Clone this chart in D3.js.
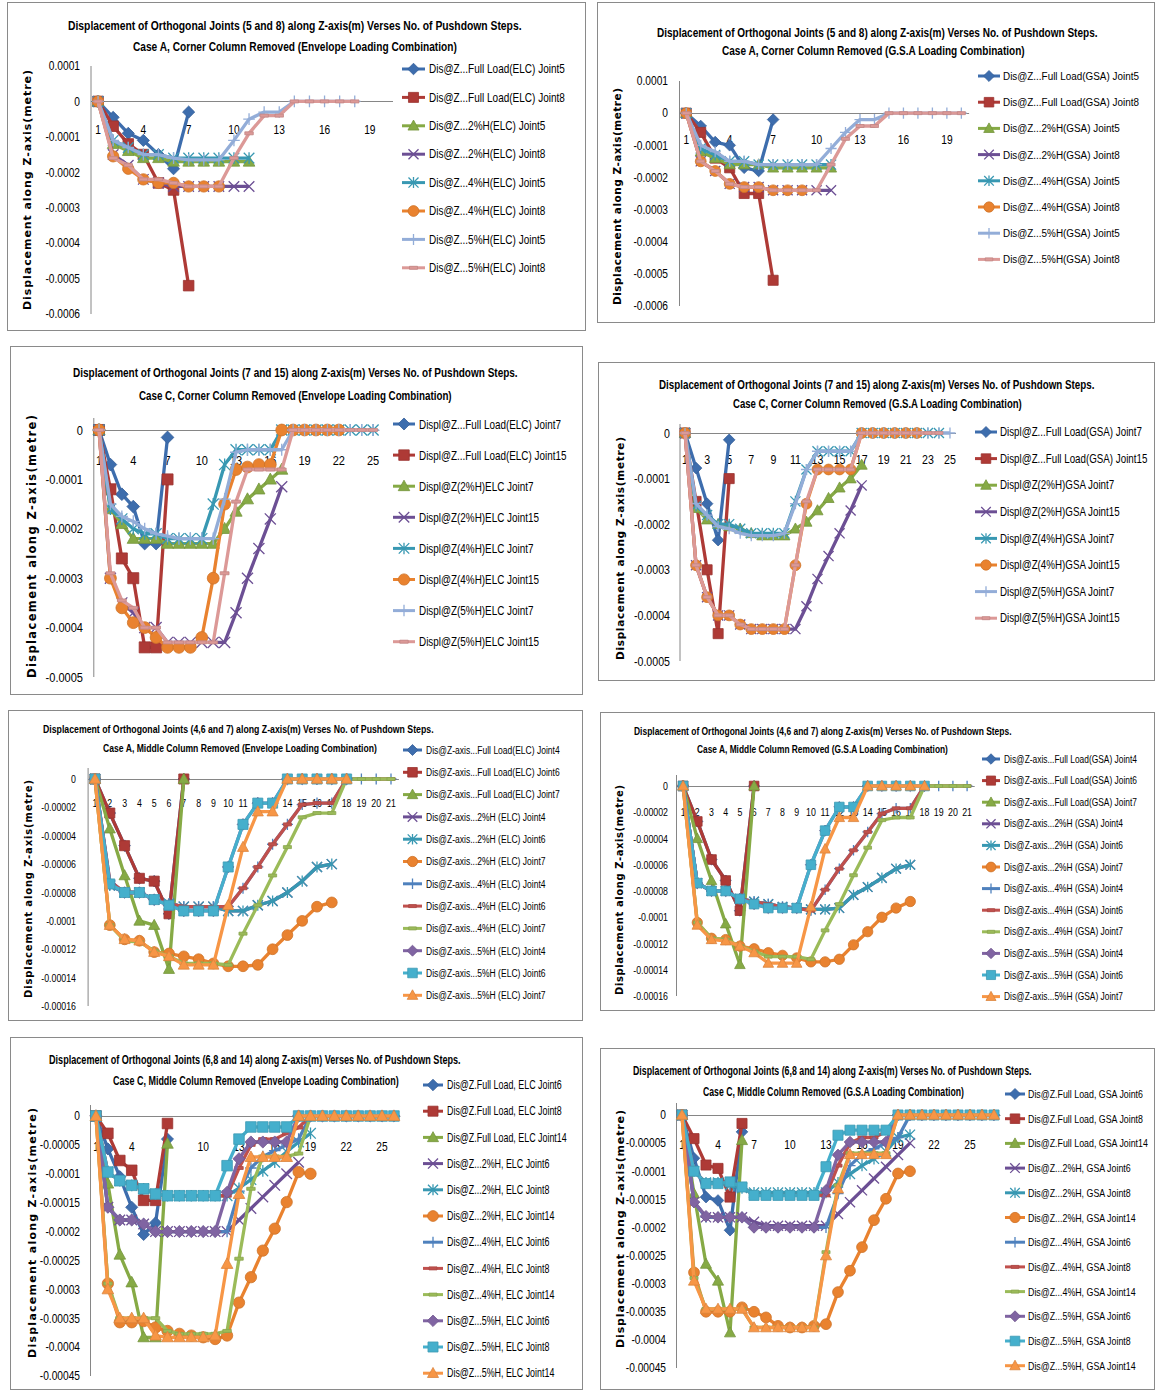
<!DOCTYPE html>
<html>
<head>
<meta charset="utf-8">
<script src="https://cdn.jsdelivr.net/npm/d3@7"></script>
<style>
  body { margin: 0; background: #fff; }
  svg { display: block; font-family: "Liberation Sans", Arial, sans-serif; }
</style>
</head>
<body>
<svg id="chart" width="1155" height="1390"></svg>
<script>
// ---- categories (pushdown steps) ----
const steps20 = [1,2,3,4,5,6,7,8,9,10,11,12,13,14,15,16,17,18,19,20];
const steps21 = [1,2,3,4,5,6,7,8,9,10,11,12,13,14,15,16,17,18,19,20,21];
const steps25 = [1,2,3,4,5,6,7,8,9,10,11,12,13,14,15,16,17,18,19,20,21,22,23,24,25];
const steps26 = [1,2,3,4,5,6,7,8,9,10,11,12,13,14,15,16,17,18,19,20,21,22,23,24,25,26];
const steps27 = [1,2,3,4,5,6,7,8,9,10,11,12,13,14,15,16,17,18,19,20,21,22,23,24,25,26,27];

// ---- tick labels ----
const xTicksTo19 = [1,4,7,10,13,16,19];
const xTicksTo25 = [1,4,7,10,13,16,19,22,25];
const xTicksOdd25 = [1,3,5,7,9,11,13,15,17,19,21,23,25];
const xTicksAll21 = [1,2,3,4,5,6,7,8,9,10,11,12,13,14,15,16,17,18,19,20,21];

const yTicksCornerA = [0.0001, 0, -0.0001, -0.0002, -0.0003, -0.0004, -0.0005, -0.0006];
const yTicksCornerC = [0, -0.0001, -0.0002, -0.0003, -0.0004, -0.0005];
const yTicksMiddleA = [0, -0.00002, -0.00004, -0.00006, -0.00008, -0.0001, -0.00012, -0.00014, -0.00016];
const yTicksMiddleC = [0, -0.00005, -0.0001, -0.00015, -0.0002, -0.00025, -0.0003, -0.00035, -0.0004, -0.00045];

// ---- titles ----
const titleJ58 = "Displacement of Orthogonal Joints (5 and 8) along Z-axis(m)  Verses  No. of Pushdown Steps.";
const titleJ715 = "Displacement of Orthogonal Joints (7 and 15) along Z-axis(m)  Verses  No. of Pushdown Steps.";
const titleJ467 = "Displacement of Orthogonal Joints (4,6 and 7) along Z-axis(m) Verses No. of Pushdown Steps.";
const titleJ6814 = "Displacement of Orthogonal Joints (6,8 and 14) along Z-axis(m)  Verses  No. of Pushdown Steps.";
const yTitle = "Displacement along Z-axis(metre)";

// ---- legend labels ----
const p1Legend = ["Dis@Z...Full Load(ELC) Joint5","Dis@Z...Full Load(ELC) Joint8","Dis@Z...2%H(ELC) Joint5","Dis@Z...2%H(ELC) Joint8",
  "Dis@Z...4%H(ELC) Joint5","Dis@Z...4%H(ELC) Joint8","Dis@Z...5%H(ELC) Joint5","Dis@Z...5%H(ELC) Joint8"];
const p2Legend = ["Dis@Z...Full Load(GSA) Joint5","Dis@Z...Full Load(GSA) Joint8","Dis@Z...2%H(GSA) Joint5","Dis@Z...2%H(GSA) Joint8",
  "Dis@Z...4%H(GSA) Joint5","Dis@Z...4%H(GSA) Joint8","Dis@Z...5%H(GSA) Joint5","Dis@Z...5%H(GSA) Joint8"];
const p3Legend = ["Displ@Z...Full Load(ELC) Joint7","Displ@Z...Full Load(ELC) Joint15","Displ@Z(2%H)ELC Joint7","Displ@Z(2%H)ELC Joint15",
  "Displ@Z(4%H)ELC Joint7","Displ@Z(4%H)ELC Joint15","Displ@Z(5%H)ELC Joint7","Displ@Z(5%H)ELC Joint15"];
const p4Legend = ["Displ@Z...Full Load(GSA) Joint7","Displ@Z...Full Load(GSA) Joint15","Displ@Z(2%H)GSA Joint7","Displ@Z(2%H)GSA Joint15",
  "Displ@Z(4%H)GSA Joint7","Displ@Z(4%H)GSA Joint15","Displ@Z(5%H)GSA Joint7","Displ@Z(5%H)GSA Joint15"];
const p5Legend = ["Dis@Z-axis...Full Load(ELC) Joint4","Dis@Z-axis...Full Load(ELC) Joint6","Dis@Z-axis...Full Load(ELC) Joint7",
  "Dis@Z-axis...2%H (ELC) Joint4","Dis@Z-axis...2%H (ELC) Joint6","Dis@Z-axis...2%H (ELC) Joint7",
  "Dis@Z-axis...4%H (ELC) Joint4","Dis@Z-axis...4%H (ELC) Joint6","Dis@Z-axis...4%H (ELC) Joint7",
  "Dis@Z-axis...5%H (ELC) Joint4","Dis@Z-axis...5%H (ELC) Joint6","Dis@Z-axis...5%H (ELC) Joint7"];
const p6Legend = ["Dis@Z-axis...Full Load(GSA) Joint4","Dis@Z-axis...Full Load(GSA) Joint6","Dis@Z-axis...Full Load(GSA) Joint7",
  "Dis@Z-axis...2%H (GSA) Joint4","Dis@Z-axis...2%H (GSA) Joint6","Dis@Z-axis...2%H (GSA) Joint7",
  "Dis@Z-axis...4%H (GSA) Joint4","Dis@Z-axis...4%H (GSA) Joint6","Dis@Z-axis...4%H (GSA) Joint7",
  "Dis@Z-axis...5%H (GSA) Joint4","Dis@Z-axis...5%H (GSA) Joint6","Dis@Z-axis...5%H (GSA) Joint7"];
const p7Legend = ["Dis@Z.Full Load, ELC Joint6","Dis@Z.Full Load, ELC Joint8","Dis@Z.Full Load, ELC Joint14",
  "Dis@Z...2%H, ELC Joint6","Dis@Z...2%H, ELC Joint8","Dis@Z...2%H, ELC Joint14",
  "Dis@Z...4%H, ELC Joint6","Dis@Z...4%H, ELC Joint8","Dis@Z...4%H, ELC Joint14",
  "Dis@Z...5%H, ELC Joint6","Dis@Z...5%H, ELC Joint8","Dis@Z...5%H, ELC Joint14"];
const p8Legend = ["Dis@Z.Full Load, GSA Joint6","Dis@Z.Full Load, GSA Joint8","Dis@Z.Full Load, GSA Joint14",
  "Dis@Z...2%H, GSA Joint6","Dis@Z...2%H, GSA Joint8","Dis@Z...2%H, GSA Joint14",
  "Dis@Z...4%H, GSA Joint6","Dis@Z...4%H, GSA Joint8","Dis@Z...4%H, GSA Joint14",
  "Dis@Z...5%H, GSA Joint6","Dis@Z...5%H, GSA Joint8","Dis@Z...5%H, GSA Joint14"];

// ---- series values (metre), one array per series, index = step-1 ----
const p1Values = [
  [0, -0.000045, -0.00009, -0.00011, -0.00015, -0.00019, -0.00003],
  [0, -0.00007, -0.00012, -0.00015, -0.00023, -0.00025, -0.00052],
  [0, -0.00012, -0.00014, -0.00016, -0.00016, -0.00017, -0.00017, -0.00017, -0.00017, -0.00017, -0.00017],
  [0, -0.00015, -0.00018, -0.00022, -0.00023, -0.00024, -0.00024, -0.00024, -0.00024, -0.00024, -0.00024],
  [0, -0.00011, -0.00013, -0.00015, -0.00015, -0.00016, -0.00016, -0.00016, -0.00016, -0.00016, -0.00016],
  [0, -0.000155, -0.00019, -0.00022, -0.00023, -0.00023, -0.00024, -0.00024, -0.00024],
  [0, -0.00011, -0.00013, -0.00015, -0.00015, -0.00016, -0.000165, -0.000165, -0.000165, -0.00011, -0.00005, -0.00003, -0.00003, 0, 0, 0, 0, 0],
  [0, -0.00016, -0.00018, -0.00022, -0.00022, -0.00023, -0.00024, -0.00024, -0.00024, -0.00016, -0.00009, -0.00004, -0.00004, 0, 0, 0, 0, 0]
];
const p2Values = [
  [0, -0.00004, -0.00009, -0.0001, -0.00017, -0.00018, -0.00002],
  [0, -0.00006, -0.00014, -0.00017, -0.00025, -0.00025, -0.00052],
  [0, -0.00012, -0.00014, -0.00016, -0.00016, -0.00016, -0.00017, -0.00017, -0.00017, -0.00017, -0.00017],
  [0, -0.00015, -0.00018, -0.00022, -0.00023, -0.00023, -0.00024, -0.00024, -0.00024, -0.00024, -0.00024],
  [0, -0.00011, -0.00013, -0.00015, -0.00015, -0.00016, -0.00016, -0.00016, -0.00016, -0.00016, -0.00016],
  [0, -0.00015, -0.00018, -0.00022, -0.00023, -0.00023, -0.00024, -0.00024, -0.00024],
  [0, -0.0001, -0.00012, -0.00015, -0.00015, -0.00016, -0.00016, -0.00016, -0.00016, -0.00016, -0.00011, -0.00006, -0.00002, -0.00002, 0, 0, 0, 0, 0, 0],
  [0, -0.00015, -0.00018, -0.00022, -0.00023, -0.00023, -0.00024, -0.00024, -0.00024, -0.00024, -0.00016, -0.00008, -0.00004, -0.00004, 0, 0, 0, 0, 0, 0]
];
const p3Values = [
  [0, -0.00007, -0.00013, -0.000155, -0.00023, -0.00023, -0.000015],
  [0, -0.00012, -0.00026, -0.0003, -0.00044, -0.00044, -0.0001],
  [0, -0.00016, -0.00019, -0.00022, -0.00022, -0.00022, -0.00023, -0.00023, -0.00023, -0.00023, -0.00023, -0.0002, -0.000165, -0.00014, -0.00012, -0.0001, -0.00008],
  [0, -0.0003, -0.00035, -0.00037, -0.0004, -0.0004, -0.00043, -0.00043, -0.00043, -0.00043, -0.00043, -0.00043, -0.00037, -0.0003, -0.00024, -0.00018, -0.000115],
  [0, -0.00016, -0.00018, -0.0002, -0.00021, -0.00021, -0.00022, -0.00022, -0.00022, -0.00022, -0.00015, -0.00007, -0.00004, -0.00004, -0.00004, -0.00004, 0, 0, 0, 0, 0, 0, 0, 0, 0],
  [0, -0.0003, -0.00036, -0.00039, -0.0004, -0.00042, -0.00044, -0.00044, -0.00044, -0.00042, -0.0003, -0.00015, -0.00008, -0.000075, -0.00007, -0.00007, 0, 0, 0, 0, 0, 0],
  [0, -0.00015, -0.000175, -0.000185, -0.0002, -0.00021, -0.000215, -0.00022, -0.00022, -0.00022, -0.00022, -0.00014, -0.000045, -0.00004, -0.00004, -0.00004, -0.00004, 0, 0, 0, 0, 0, 0, 0, 0],
  [0, -0.00029, -0.000345, -0.00036, -0.0004, -0.0004, -0.00043, -0.00043, -0.00043, -0.00043, -0.00043, -0.00029, -0.000145, -0.00008, -0.00008, -0.00008, -0.00008, 0, 0, 0, 0, 0, 0, 0, 0]
];
const p4Values = [
  [0, -0.000077, -0.000155, -0.000235, -0.000015],
  [0, -0.00015, -0.0003, -0.00044, -0.0001],
  [0, -0.000165, -0.00019, -0.0002, -0.000205, -0.00021, -0.00022, -0.000225, -0.000225, -0.000225, -0.00021, -0.000195, -0.00017, -0.000143, -0.00012, -0.0001, -0.00007],
  [0, -0.00029, -0.00036, -0.0004, -0.0004, -0.00042, -0.00043, -0.00043, -0.00043, -0.00043, -0.00043, -0.00038, -0.00032, -0.00027, -0.00022, -0.00017, -0.000115],
  [0, -0.00016, -0.00018, -0.0002, -0.0002, -0.00021, -0.00022, -0.00022, -0.00022, -0.00022, -0.00015, -0.00008, -0.00004, -0.00004, -0.00004, -0.00004, 0, 0, 0, 0, 0, 0, 0, 0],
  [0, -0.00029, -0.00036, -0.0004, -0.0004, -0.00042, -0.00043, -0.00043, -0.00043, -0.00043, -0.00029, -0.000155, -0.00008, -0.00008, -0.00008, -0.00008, 0, 0, 0, 0, 0, 0],
  [0, -0.000155, -0.00018, -0.000205, -0.00021, -0.00022, -0.000225, -0.000225, -0.000225, -0.00022, -0.000155, -0.00008, -0.00004, -0.00004, -0.00004, -0.00004, 0, 0, 0, 0, 0, 0, 0, 0, 0],
  [0, -0.00029, -0.00036, -0.0004, -0.0004, -0.00042, -0.00043, -0.00043, -0.00043, -0.00043, -0.00029, -0.00015, -0.00008, -0.00008, -0.00008, -0.00008, 0, 0, 0, 0, 0, 0, 0, 0]
];
const p5Values = [
  [0, -0.000024, -0.000047, -0.00007, -0.000072, -0.000095, 0],
  [0, -0.000024, -0.000047, -0.00007, -0.000072, -0.000095, 0],
  [0, -0.000035, -0.000068, -0.0001, -0.000103, -0.000134, 0],
  [0, -0.000075, -0.00008, -0.00008, -0.000085, -0.000088, -0.00009, -0.00009, -0.00009, -0.000093, -0.000093, -0.000089, -0.000086, -0.00008, -0.000072, -0.000062, -0.00006],
  [0, -0.000075, -0.00008, -0.00008, -0.000085, -0.000088, -0.00009, -0.00009, -0.00009, -0.000093, -0.000093, -0.000089, -0.000086, -0.00008, -0.000072, -0.000062, -0.00006],
  [0, -0.000103, -0.000113, -0.000114, -0.000122, -0.000123, -0.000125, -0.000127, -0.00013, -0.000132, -0.000132, -0.000131, -0.00012, -0.00011, -0.0001, -0.00009, -0.000087],
  [0, -0.000072, -0.00008, -0.00008, -0.000085, -0.000088, -0.00009, -0.00009, -0.00009, -0.00009, -0.000077, -0.000062, -0.000046, -0.000032, -0.000018, -0.000017, -0.000017, 0, 0, 0, 0],
  [0, -0.000072, -0.00008, -0.00008, -0.000085, -0.000088, -0.00009, -0.00009, -0.00009, -0.00009, -0.000077, -0.000062, -0.000046, -0.000032, -0.000018, -0.000017, -0.000017, 0, 0, 0, 0],
  [0, -0.000103, -0.000114, -0.000115, -0.000121, -0.000125, -0.00013, -0.00013, -0.00013, -0.000131, -0.000109, -0.000089, -0.000068, -0.000048, -0.000027, -0.000024, -0.000024, 0, 0, 0, 0],
  [0, -0.000074, -0.00008, -0.00008, -0.000085, -0.000089, -0.000093, -0.000093, -0.000093, -0.000062, -0.000032, -0.000017, -0.000017, 0, 0, 0, 0, 0],
  [0, -0.000074, -0.00008, -0.00008, -0.000085, -0.000089, -0.000093, -0.000093, -0.000093, -0.000062, -0.000032, -0.000017, -0.000017, 0, 0, 0, 0, 0],
  [0, -0.000103, -0.000113, -0.000114, -0.000122, -0.000125, -0.000131, -0.000131, -0.000131, -0.000089, -0.000048, -0.000023, -0.000023, 0, 0, 0, 0, 0]
];
const p6Values = [
  [0, -0.000027, -0.000056, -0.000072, -0.000095, 0],
  [0, -0.000027, -0.000056, -0.000072, -0.000095, 0],
  [0, -0.00004, -0.000072, -0.000105, -0.000136, 0],
  [0, -0.000074, -0.00008, -0.00008, -0.000086, -0.000088, -0.00009, -0.000092, -0.000093, -0.000094, -0.000094, -0.000093, -0.000083, -0.000077, -0.00007, -0.000063, -0.00006],
  [0, -0.000074, -0.00008, -0.00008, -0.000086, -0.000088, -0.00009, -0.000092, -0.000093, -0.000094, -0.000094, -0.000093, -0.000083, -0.000077, -0.00007, -0.000063, -0.00006],
  [0, -0.000104, -0.000116, -0.000117, -0.000122, -0.000124, -0.000127, -0.000129, -0.000131, -0.000134, -0.000134, -0.000132, -0.000121, -0.000111, -0.0001, -0.000093, -0.000088],
  [0, -0.000074, -0.00008, -0.00008, -0.000086, -0.000088, -0.00009, -0.000092, -0.000093, -0.000095, -0.000079, -0.000063, -0.000049, -0.000035, -0.000021, -0.000017, -0.000017, 0, 0, 0, 0],
  [0, -0.000074, -0.00008, -0.00008, -0.000086, -0.000088, -0.00009, -0.000092, -0.000093, -0.000095, -0.000079, -0.000063, -0.000049, -0.000035, -0.000021, -0.000017, -0.000017, 0, 0, 0, 0],
  [0, -0.000104, -0.000116, -0.000117, -0.000122, -0.000126, -0.00013, -0.00013, -0.00013, -0.000132, -0.00011, -0.00009, -0.000068, -0.000047, -0.000026, -0.000024, -0.000024, 0, 0, 0, 0],
  [0, -0.000074, -0.00008, -0.00008, -0.000086, -0.00009, -0.000093, -0.000093, -0.000093, -0.00006, -0.000034, -0.000016, -0.000016, 0, 0, 0, 0, 0],
  [0, -0.000074, -0.00008, -0.00008, -0.000086, -0.00009, -0.000093, -0.000093, -0.000093, -0.00006, -0.000034, -0.000016, -0.000016, 0, 0, 0, 0, 0],
  [0, -0.000106, -0.000117, -0.000118, -0.000122, -0.000127, -0.000135, -0.000135, -0.000135, -0.000092, -0.000048, -0.000024, -0.000024, 0, 0, 0, 0, 0]
];
const p7Values = [
  [0, -0.000057, -0.000105, -0.000158, -0.000205, -0.000185, -0.00004],
  [0, -0.00003, -0.000077, -0.000094, -0.000146, -0.000146, -0.000013],
  [0, -0.000117, -0.00024, -0.000288, -0.000383, -0.000383, -0.000048],
  [0, -0.000158, -0.00018, -0.00018, -0.000187, -0.0002, -0.0002, -0.0002, -0.0002, -0.0002, -0.0002, -0.0002, -0.00018, -0.00016, -0.00014, -0.00012, -0.0001, -0.00008],
  [0, -0.000097, -0.000112, -0.00012, -0.000126, -0.000135, -0.000138, -0.000138, -0.000138, -0.000138, -0.000138, -0.000138, -0.000125, -0.00011, -0.000095, -0.00008, -0.000062, -0.000045, -0.00003],
  [0, -0.00029, -0.000357, -0.000357, -0.000355, -0.000366, -0.000372, -0.000377, -0.00038, -0.000383, -0.000386, -0.00038, -0.000323, -0.000279, -0.000233, -0.000195, -0.000149, -0.000097, -0.0001],
  [0, -0.000158, -0.00018, -0.00018, -0.000187, -0.0002, -0.0002, -0.0002, -0.0002, -0.0002, -0.0002, -0.0002, -0.00013, -0.00009, -0.00007, -0.00006, -0.00005, -0.00004, 0],
  [0, -0.000097, -0.000112, -0.00012, -0.000126, -0.000135, -0.000138, -0.000138, -0.000138, -0.000138, -0.000138, -0.000138, -0.00009, -0.00005, -0.00004, -0.00004, -0.00003, -0.00002, 0],
  [0, -0.00029, -0.00035, -0.00035, -0.00035, -0.00035, -0.000372, -0.000377, -0.000377, -0.000377, -0.000377, -0.000372, -0.000247, -0.000126, -0.00007, -0.00007, -0.00007, -0.000065, 0],
  [0, -0.000158, -0.00018, -0.00018, -0.000187, -0.0002, -0.0002, -0.0002, -0.0002, -0.0002, -0.0002, -0.000132, -0.000074, -0.000045, -0.000045, -0.000045, -0.000045, 0, 0, 0, 0, 0, 0, 0, 0, 0],
  [0, -0.000097, -0.000112, -0.00012, -0.000126, -0.000135, -0.000138, -0.000138, -0.000138, -0.000138, -0.000138, -0.000086, -0.00004, -0.000019, -0.000019, -0.000019, -0.000019, 0, 0, 0, 0, 0, 0, 0, 0, 0],
  [0, -0.0003, -0.00035, -0.00035, -0.00035, -0.00038, -0.000383, -0.000383, -0.000383, -0.000383, -0.00038, -0.000256, -0.000135, -0.000071, -0.000071, -0.000071, -0.000071, 0, 0, 0, 0, 0, 0, 0, 0, 0]
];
const p8Values = [
  [0, -0.000077, -0.000146, -0.000152, -0.000205, -0.00003],
  [0, -0.000042, -0.000089, -0.000095, -0.000146, -0.000015],
  [0, -0.00014, -0.000265, -0.000295, -0.000387, -0.000045],
  [0, -0.000155, -0.000182, -0.000182, -0.000182, -0.000182, -0.00019, -0.000197, -0.000197, -0.000197, -0.000197, -0.000197, -0.000197, -0.000176, -0.000155, -0.000134, -0.000113, -0.000092, -0.000071, -0.00005],
  [0, -0.0001, -0.00012, -0.00012, -0.000125, -0.00013, -0.000138, -0.000138, -0.000138, -0.000138, -0.000138, -0.000138, -0.000138, -0.00012, -0.000105, -0.00009, -0.000078, -0.000065, -0.00004, -0.000035],
  [0, -0.00028, -0.00035, -0.00035, -0.00035, -0.000342, -0.00035, -0.00036, -0.000375, -0.000378, -0.000378, -0.000375, -0.000372, -0.000315, -0.000277, -0.000235, -0.000187, -0.000149, -0.000104, -0.0001],
  [0, -0.000155, -0.000182, -0.000182, -0.000182, -0.000182, -0.0002, -0.0002, -0.0002, -0.0002, -0.0002, -0.0002, -0.0002, -0.00014, -0.00009, -0.00007, -0.00006, -0.00005, -0.00004, 0],
  [0, -0.0001, -0.000122, -0.000122, -0.000119, -0.000128, -0.000143, -0.000143, -0.000143, -0.000143, -0.000143, -0.000143, -0.000143, -0.00009, -0.00005, -0.00004, -0.00004, -0.00003, 0],
  [0, -0.00029, -0.000345, -0.000345, -0.000345, -0.000345, -0.000378, -0.000378, -0.000378, -0.000378, -0.000378, -0.000378, -0.000244, -0.000125, -0.000068, -0.000068, -0.000068, -0.000068, 0],
  [0, -0.000155, -0.00018, -0.000182, -0.000182, -0.000182, -0.0002, -0.0002, -0.0002, -0.0002, -0.0002, -0.0002, -0.000134, -0.000071, -0.000048, -0.000048, -0.000048, -0.000048, 0, 0, 0, 0, 0, 0, 0, 0, 0],
  [0, -0.0001, -0.000122, -0.000122, -0.000119, -0.000128, -0.000143, -0.000143, -0.000143, -0.000143, -0.000143, -0.000143, -0.000092, -0.000036, -0.000027, -0.000027, -0.000027, -0.000027, 0, 0, 0, 0, 0, 0, 0, 0, 0],
  [0, -0.000295, -0.000345, -0.000345, -0.000345, -0.000345, -0.000378, -0.000378, -0.000378, -0.000378, -0.000378, -0.000378, -0.00025, -0.000131, -0.00007, -0.00007, -0.00007, -0.00007, 0, 0, 0, 0, 0, 0, 0, 0, 0]
];

// ---- series styles ----
const colors8 = ["#3D6DAD", "#AE3A36", "#86AA45", "#6C4F94", "#3898B2", "#E9822F", "#93ADD8", "#DC9997"];
const markers8 = ["diamond", "square", "triangle", "x", "star", "circle", "plus", "dash"];
const colors12 = ["#3D6DAD", "#AE3A36", "#86AA45", "#6C4F94", "#3898B2", "#E9822F",
                  "#4F81BD", "#C0504D", "#9BBB59", "#8064A2", "#45AFCC", "#F79646"];
const markers12 = ["diamond", "square", "triangle", "x", "star", "circle", "plus", "dash", "dash", "diamond", "square", "triangle"];

const axisColor = "#868686";

// ---- layout of each panel ----
const panels = [
  { box: [7, 2, 585, 330], titles: [[titleJ58, 68, 522, 25], ["Case A, Corner Column Removed (Envelope Loading Combination)", 133, 457, 46]], titleSize: 13,
    steps: steps20, x0: 90.5, step: 15.1, xTicks: xTicksTo19, xLabelY: 130,
    yTicks: yTicksCornerA, yRange: [66, 314], yAxisTop: 66, yLabelRight: 80, tickSize: 12, tickSx: 0.85,
    yTitle: [27, 70, 310, 11], values: p1Values, legend: p1Legend, colors: colors8, markers: markers8, ms: 1.1,
    leg: { x1: 402, x2: 425, tx: 429, y0: 69, dy: 28.4, width: 136, size: 12 } },
  { box: [597, 2, 1154, 322], titles: [[titleJ58, 657, 1098, 33], ["Case A, Corner Column Removed (G.S.A Loading Combination)", 722, 1025, 51]], titleSize: 12.5,
    steps: steps20, x0: 679, step: 14.48, xTicks: xTicksTo19, xLabelY: 140,
    yTicks: yTicksCornerA, yRange: [81, 306], yAxisTop: 81, yLabelRight: 668, tickSize: 12, tickSx: 0.85,
    yTitle: [617, 88, 305, 10.5], values: p2Values, legend: p2Legend, colors: colors8, markers: markers8, ms: 1.05,
    leg: { x1: 978, x2: 1000, tx: 1003, y0: 76, dy: 26.2, width: 136, size: 11.5 } },
  { box: [10, 346, 582, 694], titles: [[titleJ715, 73, 518, 372], ["Case C, Corner Column Removed (Envelope Loading Combination)", 139, 452, 395]], titleSize: 13.5,
    steps: steps25, x0: 93.3, step: 11.42, xTicks: xTicksTo25, xLabelY: 460,
    yTicks: yTicksCornerC, yRange: [430, 677], yAxisTop: 418, yLabelRight: 83, tickSize: 13, tickSx: 0.85,
    yTitle: [32, 415, 678, 11.5], values: p3Values, legend: p3Legend, colors: colors8, markers: markers8, ms: 1.15,
    leg: { x1: 393, x2: 415, tx: 419, y0: 424, dy: 31.1, width: 142, size: 13 } },
  { box: [598, 362, 1154, 680], titles: [[titleJ715, 659, 1095, 385], ["Case C, Corner Column Removed (G.S.A Loading Combination)", 733, 1022, 404]], titleSize: 12.5,
    steps: steps25, x0: 679.5, step: 11.04, xTicks: xTicksOdd25, xLabelY: 460,
    yTicks: yTicksCornerC, yRange: [433, 661], yAxisTop: 424, yLabelRight: 670, tickSize: 12.5, tickSx: 0.85,
    yTitle: [620, 437, 660, 10.5], values: p4Values, legend: p4Legend, colors: colors8, markers: markers8, ms: 1.05,
    leg: { x1: 975, x2: 997, tx: 1000, y0: 432, dy: 26.6, width: 142, size: 12 } },
  { box: [8, 710, 582, 1020], titles: [[titleJ467, 43, 434, 729], ["Case A, Middle Column Removed (Envelope Loading Combination)", 103, 377, 748]], titleSize: 11.5,
    steps: steps21, x0: 87.6, step: 14.8, xTicks: xTicksAll21, xLabelY: 803,
    yTicks: yTicksMiddleA, yRange: [779, 1006], yAxisTop: 768, yLabelRight: 76, tickSize: 11, tickSx: 0.8,
    yTitle: [28, 780, 998, 10], values: p5Values, legend: p5Legend, colors: colors12, markers: markers12, ms: 1.05,
    leg: { x1: 403, x2: 422, tx: 426, y0: 750, dy: 22.3, width: 134, size: 11 } },
  { box: [600, 712, 1154, 1010], titles: [[titleJ467, 634, 1012, 731], ["Case A, Middle Column Removed (G.S.A Loading Combination)", 697, 948, 749]], titleSize: 11.5,
    steps: steps21, x0: 676, step: 14.2, xTicks: xTicksAll21, xLabelY: 812,
    yTicks: yTicksMiddleA, yRange: [786, 996], yAxisTop: 775, yLabelRight: 668, tickSize: 11, tickSx: 0.8,
    yTitle: [619, 785, 995, 10], values: p6Values, legend: p6Legend, colors: colors12, markers: markers12, ms: 1.0,
    leg: { x1: 982, x2: 1000, tx: 1004, y0: 759, dy: 21.6, width: 133, size: 10.5 } },
  { box: [10, 1037, 582, 1389], titles: [[titleJ6814, 49, 461, 1060], ["Case C, Middle Column Removed (Envelope Loading Combination)", 113, 399, 1081]], titleSize: 12.5,
    steps: steps26, x0: 90, step: 11.92, xTicks: xTicksTo25, xLabelY: 1147,
    yTicks: yTicksMiddleC, yRange: [1116, 1376], yAxisTop: 1105, yLabelRight: 80, tickSize: 12, tickSx: 0.85,
    yTitle: [32, 1108, 1358, 11], values: p7Values, legend: p7Legend, colors: colors12, markers: markers12, ms: 1.1,
    leg: { x1: 423, x2: 443, tx: 447, y0: 1085, dy: 26.2, width: 115, size: 12 } },
  { box: [600, 1048, 1154, 1389], titles: [[titleJ6814, 633, 1032, 1071], ["Case C, Middle Column Removed (G.S.A Loading Combination)", 703, 964, 1092]], titleSize: 12,
    steps: steps27, x0: 676, step: 12.0, xTicks: xTicksTo25, xLabelY: 1145,
    yTicks: yTicksMiddleC, yRange: [1115, 1368], yAxisTop: 1103, yLabelRight: 666, tickSize: 12, tickSx: 0.85,
    yTitle: [620, 1110, 1348, 11], values: p8Values, legend: p8Legend, colors: colors12, markers: markers12, ms: 1.05,
    leg: { x1: 1005, x2: 1025, tx: 1028, y0: 1094, dy: 24.7, width: 115, size: 11.5 } }
];

const filled = new Set(["diamond", "square", "triangle", "circle", "dash"]);

// marker shape centred on 0,0
function markerPath(type, s) {
  switch (type) {
    case "diamond": return `M0,${-s * 1.15}L${s * 1.15},0L0,${s * 1.15}L${-s * 1.15},0Z`;
    case "square": return `M${-s},${-s}H${s}V${s}H${-s}Z`;
    case "triangle": return `M0,${-s * 1.15}L${s * 1.1},${s * 0.85}L${-s * 1.1},${s * 0.85}Z`;
    case "circle": return d3.symbol(d3.symbolCircle, Math.PI * s * s * 1.15)();
    case "x": return `M${-s},${-s}L${s},${s}M${-s},${s}L${s},${-s}`;
    case "star": return `M${-s},${-s}L${s},${s}M${-s},${s}L${s},${-s}M0,${-s * 1.1}V${s * 1.1}`;
    case "plus": return `M${-s * 1.1},0H${s * 1.1}M0,${-s * 1.1}V${s * 1.1}`;
    case "dash": return `M${-s * 0.8},-1.5H${s * 0.8}V1.5H${-s * 0.8}Z`;
  }
}

function drawMarker(g, type, color, s, px, py) {
  const m = g.append("path")
    .attr("d", markerPath(type, s))
    .attr("transform", `translate(${px},${py})`);
  if (filled.has(type)) {
    m.attr("fill", color).attr("stroke", d3.color(color).darker(0.35)).attr("stroke-width", 0.8);
  } else {
    m.attr("fill", "none").attr("stroke", color).attr("stroke-width", 1.3);
  }
}

// text squeezed horizontally so its width matches the reference
function fitText(g, label, x, y, size, width, bold) {
  const t = g.append("text")
    .attr("font-size", size)
    .attr("font-weight", bold ? "bold" : null)
    .attr("dy", "0.35em")
    .text(label);
  const k = width / t.node().getComputedTextLength();
  t.attr("transform", `translate(${x},${y}) scale(${k},1)`);
  return k;
}

const svg = d3.select("#chart");

panels.forEach((p) => {
  const g = svg.append("g");

  // panel frame
  g.append("rect")
    .attr("x", p.box[0] + 0.5).attr("y", p.box[1] + 0.5)
    .attr("width", p.box[2] - p.box[0]).attr("height", p.box[3] - p.box[1])
    .attr("fill", "none").attr("stroke", "#8a8a8a");

  // two-line title
  p.titles.forEach(([txt, xa, xb, ty]) => fitText(g, txt, xa, ty, p.titleSize, xb - xa, true));

  // scales
  const x = d3.scaleBand().domain(p.steps).range([p.x0, p.x0 + p.steps.length * p.step]);
  const cx = (c) => x(c) + x.bandwidth() / 2;
  const y = d3.scaleLinear().domain([p.yTicks[0], p.yTicks[p.yTicks.length - 1]]).range(p.yRange);

  // value axis line
  g.append("line")
    .attr("x1", p.x0 + 0.5).attr("x2", p.x0 + 0.5)
    .attr("y1", p.yAxisTop).attr("y2", p.yRange[1])
    .attr("stroke", axisColor);

  // value tick labels
  const yAxis = g.append("g")
    .attr("transform", `translate(${p.yLabelRight},0)`)
    .call(d3.axisLeft(y).tickValues(p.yTicks).tickSize(0).tickPadding(0).tickFormat((v) => String(v)));
  yAxis.select(".domain").remove();
  yAxis.attr("font-family", null).attr("font-size", p.tickSize);
  yAxis.selectAll("text").attr("transform", `scale(${p.tickSx},1)`).attr("fill", "#000");

  // category axis at zero with step labels
  const pad = p.xLabelY - y(0) - p.tickSize * 0.36;
  const xAxis = g.append("g")
    .attr("transform", `translate(0,${Math.round(y(0))})`)
    .call(d3.axisBottom(x).tickValues(p.xTicks).tickSize(0).tickSizeOuter(0).tickPadding(pad));
  xAxis.select(".domain").attr("stroke", axisColor);
  xAxis.attr("font-family", null).attr("font-size", p.tickSize);
  xAxis.selectAll("text").attr("transform", `scale(${p.tickSx},1)`).attr("fill", "#000");

  // value-axis title
  const [tx, tTop, tBottom, tSize] = p.yTitle;
  g.append("text")
    .attr("transform", `translate(${tx + tSize * 0.36},${tBottom}) rotate(-90)`)
    .attr("font-family", "DejaVu Sans, sans-serif")
    .attr("font-size", tSize).attr("font-weight", "bold")
    .attr("textLength", tBottom - tTop).attr("lengthAdjust", "spacing")
    .text(yTitle);

  // series
  const line = d3.line()
    .x((v, i) => cx(i + 1))
    .y((v) => y(v));
  const s = 4.8 * p.ms;
  p.values.forEach((vals, si) => {
    const col = p.colors[si];
    const sg = g.append("g");
    sg.append("path")
      .attr("d", line(vals))
      .attr("fill", "none").attr("stroke", col)
      .attr("stroke-width", 3.3).attr("stroke-linejoin", "round");
    vals.forEach((v, i) => drawMarker(sg, p.markers[si], col, s, cx(i + 1), y(v)));
  });

  // legend
  const lg = g.append("g");
  let k = 1;
  p.legend.forEach((label, li) => {
    const ly = p.leg.y0 + li * p.leg.dy;
    const col = p.colors[li];
    lg.append("line")
      .attr("x1", p.leg.x1).attr("x2", p.leg.x2).attr("y1", ly).attr("y2", ly)
      .attr("stroke", col).attr("stroke-width", 3);
    drawMarker(lg, p.markers[li], col, s * 0.95, (p.leg.x1 + p.leg.x2) / 2, ly);
    if (li === 0) {
      k = fitText(lg, label, p.leg.tx, ly, p.leg.size, p.leg.width, false);
    } else {
      lg.append("text")
        .attr("font-size", p.leg.size).attr("dy", "0.35em")
        .attr("transform", `translate(${p.leg.tx},${ly}) scale(${k},1)`)
        .text(label);
    }
  });
});
</script>
</body>
</html>
